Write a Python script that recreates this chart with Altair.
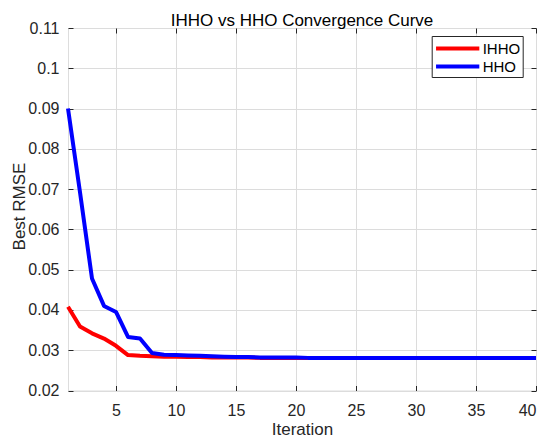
import altair as alt
import pandas as pd

iterations = list(range(1, 41))
ihho = [0.0408, 0.0359, 0.0342, 0.0329, 0.0311, 0.0288, 0.0286, 0.0285, 0.0284, 0.0284,
        0.0283, 0.0283, 0.0282, 0.0282, 0.0282, 0.0282, 0.0281, 0.0281, 0.0281, 0.0281,
        0.0281, 0.0281, 0.0281, 0.0281, 0.0281, 0.0281, 0.0281, 0.0281, 0.0281, 0.0281,
        0.0281, 0.0281, 0.0281, 0.0281, 0.0281, 0.0281, 0.0281, 0.0281, 0.0281, 0.0281]
hho = [0.0900, 0.0692, 0.0478, 0.0410, 0.0395, 0.0333, 0.0329, 0.0293, 0.0289, 0.0288,
       0.0287, 0.0286, 0.0285, 0.0284, 0.0283, 0.0283, 0.0282, 0.0282, 0.0282, 0.0282,
       0.0281, 0.0281, 0.0281, 0.0281, 0.0281, 0.0281, 0.0281, 0.0281, 0.0281, 0.0281,
       0.0281, 0.0281, 0.0281, 0.0281, 0.0281, 0.0281, 0.0281, 0.0281, 0.0281, 0.0281]
series_names = ["IHHO", "HHO"]
series_colors = ["#FF0000", "#0000FF"]
x_ticks = [5, 10, 15, 20, 25, 30, 35, 40]
y_ticks = [0.02, 0.03, 0.04, 0.05, 0.06, 0.07, 0.08, 0.09, 0.10, 0.11]

df = pd.DataFrame({
    "iter": iterations * 2,
    "rmse": ihho + hho,
    "series": ["IHHO"] * len(ihho) + ["HHO"] * len(hho),
})

FONT = "Liberation Sans"
AX = "#262626"

xs = alt.Scale(domain=[1, 40], nice=False, zero=False)
ys = alt.Scale(domain=[0.02, 0.11], nice=False, zero=False)
cs = alt.Scale(domain=series_names, range=series_colors)

ax_bottom = alt.Axis(orient="bottom", values=x_ticks, offset=-5, tickSize=5, domain=False,
                     grid=True, gridColor="#dcdcdc", gridWidth=1,
                     tickColor=AX, tickWidth=1, labelPadding=12, labelFontSize=16,
                     labelColor=AX, labelFont=FONT, title="Iteration", titleFontSize=17,
                     titleFont=FONT, titleFontWeight="normal", titleColor=AX,
                     titleBaseline="alphabetic", titleY=48.5)
ax_left = alt.Axis(orient="left", values=y_ticks, offset=-5, tickSize=5, domain=False,
                   grid=True, gridColor="#dcdcdc", gridWidth=1,
                   tickColor=AX, tickWidth=1, labelPadding=9, labelFontSize=16,
                   labelColor=AX, labelFont=FONT,
                   labelExpr="format(datum.value, '.2~f')",
                   title="Best RMSE", titleFontSize=17, titleFont=FONT,
                   titleFontWeight="normal", titleColor=AX, titleAngle=270,
                   titleBaseline="alphabetic", titleAlign="center",
                   titleX=-49, titleY=178)
ax_top = alt.Axis(orient="top", values=x_ticks, offset=-5, tickSize=5, domain=False,
                  grid=False, labels=False, title=None, tickColor=AX, tickWidth=1)
ax_right = alt.Axis(orient="right", values=y_ticks, offset=-5, tickSize=5, domain=False,
                    grid=False, labels=False, title=None, tickColor=AX, tickWidth=1)

leg = alt.Legend(orient="none", legendX=363.7, legendY=8, title=None,
                 strokeColor=AX, fillColor="white", padding=2.5,
                 symbolType="M-1.02,0H4.39", symbolSize=256, symbolStrokeWidth=4,
                 labelFontSize=15, labelFont=FONT, labelColor="#000000",
                 labelOffset=28.5, rowPadding=0)

base = alt.Chart(df)
red = base.transform_filter(alt.datum.series == "IHHO").mark_line(
    strokeWidth=4, strokeJoin="round").encode(
    x=alt.X("iter:Q", scale=xs, axis=ax_bottom),
    y=alt.Y("rmse:Q", scale=ys, axis=ax_left),
    color=alt.Color("series:N", scale=cs, legend=leg),
)
blue = base.transform_filter(alt.datum.series == "HHO").mark_line(
    strokeWidth=4, strokeJoin="round").encode(
    x=alt.X("iter:Q", scale=xs, axis=ax_top),
    y=alt.Y("rmse:Q", scale=ys, axis=ax_right),
    color=alt.Color("series:N", scale=cs, legend=leg),
)

chart = alt.layer(red, blue).resolve_axis(x="independent", y="independent").properties(
    width=468, height=362.5,
    autosize=alt.AutoSizeParams(type="none"),
    padding={"left": 60, "top": 20, "right": 6, "bottom": 47.5},
    title=alt.TitleParams("IHHO vs HHO Convergence Curve", fontSize=17, font=FONT,
                          fontWeight="normal", color="#000000", anchor="middle",
                          offset=5, dy=15),
).configure_view(stroke=AX, strokeWidth=1).configure(background="white")

chart.save("out.html", embed_options={"renderer": "svg", "actions": False})
